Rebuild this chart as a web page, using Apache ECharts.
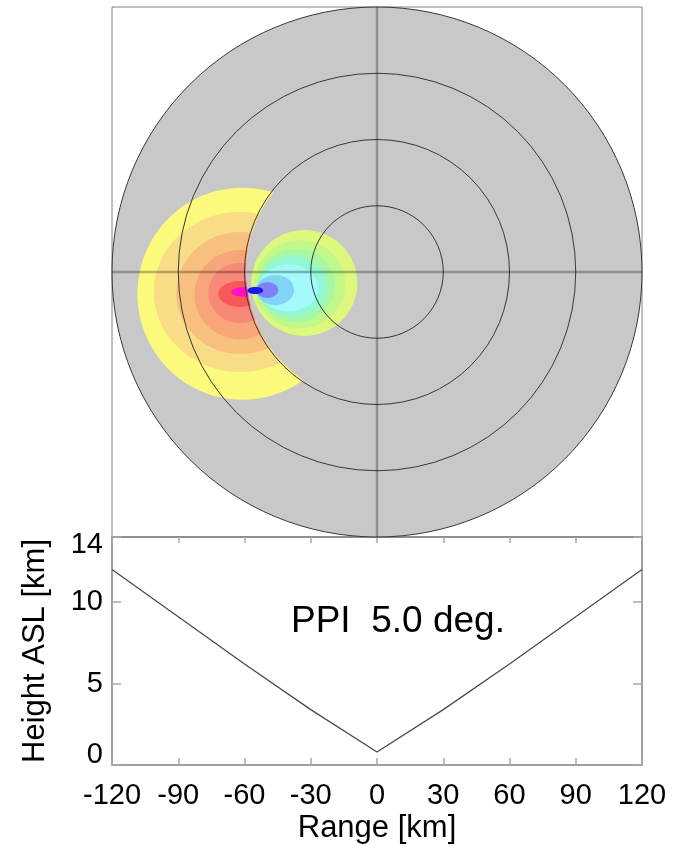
<!DOCTYPE html>
<html>
<head>
<meta charset="utf-8">
<script src="https://cdn.jsdelivr.net/npm/echarts@6/dist/echarts.min.js"></script>
<style>
  html, body { margin: 0; padding: 0; background: #ffffff; }
  #chart { width: 674px; height: 848px; }
</style>
</head>
<body>
<div id="chart"></div>
<script>
// ---- PPI display (plan view, km east / km north of the radar) ----
const ringRangesKm = [30, 60, 90, 120];
const maxRangeKm = 120;
// zero isodop lies along this range (km)
const zeroIsodopRangeKm = 59.3;

// receding-velocity contour bands, outermost first: [centre x, centre y, half-width, half-height] (km)
const recedingBands = [
  [-61.0, -9.8, 47.5, 48.0],
  [-62.0, -9.0, 39.0, 36.2],
  [-62.0, -9.5, 28.9, 27.6],
  [-62.0, -10.2, 20.7, 20.2],
  [-62.0, -9.5, 14.4, 13.6],
  [-62.0, -10.0, 9.9, 5.9],
  [-59.5, -9.0, 6.5, 2.2]
];
const recedingColors = ['#fbfa7c', '#f9dc86', '#f8c07e', '#f8a57a', '#f88878', '#fa5858', '#ff10c8'];

// approaching-velocity contour bands, outermost first
const approachingBands = [
  [-32.9, -5.0, 24.0, 24.0],
  [-35.0, -5.6, 20.6, 20.0],
  [-36.6, -6.2, 17.6, 16.6],
  [-38.2, -6.6, 15.3, 13.6],
  [-40.0, -7.2, 13.4, 10.6],
  [-46.1, -8.2, 8.6, 6.8],
  [-49.7, -8.2, 5.0, 3.6],
  [-55.1, -8.4, 3.6, 1.6]
];
const approachingColors = ['#ddf87c', '#c2f88a', '#a6f8a6', '#90f8d4', '#a4fafa', '#80d4f8', '#8080f8', '#1a1aee'];

// ---- beam height cross-section ----
const rangeKm = [-120, -90, -60, -30, 0, 30, 60, 90, 120];
const beamHeightKm = [12.0, 9.1, 6.2, 3.4, 0.8, 3.4, 6.2, 9.1, 12.0];
const heightTickLabels = [0, 5, 10, 14];
const rangeTickStep = 30;
const sweepLabel = 'PPI  5.0 deg.';

const FONT = 'Liberation Sans, Arial, Helvetica, sans-serif';

function bandEllipses(api, bands, colors) {
  return bands.map(function (b, i) {
    const p = api.coord([b[0], b[1]]);
    const s = api.size([b[2], b[3]]);
    return {
      type: 'ellipse',
      shape: { cx: p[0], cy: p[1], rx: s[0], ry: s[1] },
      style: { fill: colors[i] }
    };
  });
}

function renderPPI(params, api) {
  const c = api.coord([0, 0]);
  const kmPx = api.size([1, 1])[0];
  const children = [];
  // scanned disk
  children.push({
    type: 'circle',
    shape: { cx: c[0], cy: c[1], r: maxRangeKm * kmPx },
    style: { fill: '#c8c8c8' }
  });
  // receding bands lie beyond the zero isodop
  children.push({
    type: 'group',
    children: bandEllipses(api, recedingBands, recedingColors),
    clipPath: {
      type: 'ring',
      shape: { cx: c[0], cy: c[1], r: maxRangeKm * kmPx, r0: zeroIsodopRangeKm * kmPx }
    }
  });
  // approaching bands lie inside it
  children.push({
    type: 'group',
    children: bandEllipses(api, approachingBands, approachingColors),
    clipPath: {
      type: 'circle',
      shape: { cx: c[0], cy: c[1], r: zeroIsodopRangeKm * kmPx }
    }
  });
  // range rings
  ringRangesKm.forEach(function (r) {
    children.push({
      type: 'circle',
      shape: { cx: c[0], cy: c[1], r: r * kmPx },
      style: { fill: null, stroke: '#383838', lineWidth: 1 }
    });
  });
  // cross hair through the radar
  const w = api.coord([-maxRangeKm, 0]), e = api.coord([maxRangeKm, 0]);
  const s = api.coord([0, -maxRangeKm]), n = api.coord([0, maxRangeKm]);
  const hair = { stroke: 'rgba(0,0,0,0.28)', lineWidth: 2.5 };
  children.push({ type: 'line', shape: { x1: w[0], y1: w[1], x2: e[0], y2: e[1] }, style: hair });
  children.push({ type: 'line', shape: { x1: s[0], y1: s[1], x2: n[0], y2: n[1] }, style: hair });
  return { type: 'group', children: children };
}

const chart = echarts.init(document.getElementById('chart'), null, { renderer: 'canvas' });

const axisGray = '#808080';
const tickGray = '#a8a8a8';

chart.setOption({
  animation: false,
  backgroundColor: '#ffffff',
  grid: [
    { left: 112, top: 7, width: 530, height: 530, show: true, borderColor: axisGray, borderWidth: 1, backgroundColor: 'transparent' },
    { left: 112, top: 537, width: 530, height: 228 }
  ],
  xAxis: [
    { gridIndex: 0, type: 'value', min: -maxRangeKm, max: maxRangeKm, show: false },
    {
      gridIndex: 1, type: 'value', position: 'bottom', min: -maxRangeKm, max: maxRangeKm, interval: rangeTickStep,
      axisLine: { show: true, onZero: false, lineStyle: { color: axisGray, width: 1.5 } },
      axisTick: { show: true, inside: true, length: 7, lineStyle: { color: tickGray, width: 1.5 } },
      axisLabel: { show: true, margin: 16, fontSize: 29, fontFamily: FONT, color: '#000' },
      splitLine: { show: false },
      name: 'Range [km]', nameLocation: 'middle', nameGap: 48,
      nameTextStyle: { fontSize: 31, fontFamily: FONT, color: '#000' }
    },
    {
      gridIndex: 1, type: 'value', position: 'top', min: -maxRangeKm, max: maxRangeKm, interval: rangeTickStep,
      axisLine: { show: true, onZero: false, lineStyle: { color: axisGray, width: 1.5 } },
      axisTick: { show: true, inside: true, length: 6, lineStyle: { color: tickGray, width: 1.5 } },
      axisLabel: { show: false },
      splitLine: { show: false }
    }
  ],
  yAxis: [
    { gridIndex: 0, type: 'value', min: -maxRangeKm, max: maxRangeKm, show: false },
    {
      gridIndex: 1, type: 'value', position: 'left', min: 0, max: 14, interval: 5,
      axisLine: { show: true, onZero: false, lineStyle: { color: axisGray, width: 1.5 } },
      axisTick: { show: true, inside: true, length: 9, lineStyle: { color: tickGray, width: 1.5 } },
      axisLabel: {
        show: true, margin: 9, fontSize: 29, fontFamily: FONT, color: '#000',
        formatter: function (v) {
          if (heightTickLabels.indexOf(v) < 0) return '';
          if (v === heightTickLabels[0]) return '{lo|' + v + '}';
          if (v === heightTickLabels[heightTickLabels.length - 1]) return '{hi|' + v + '}';
          return String(v);
        },
        rich: {
          lo: { fontSize: 29, fontFamily: FONT, color: '#000', padding: [0, 0, 21, 0] },
          hi: { fontSize: 29, fontFamily: FONT, color: '#000', padding: [16, 0, 0, 0] }
        }
      },
      splitLine: { show: false },
      name: 'Height ASL [km]', nameLocation: 'middle', nameGap: 61,
      nameTextStyle: { fontSize: 31, fontFamily: FONT, color: '#000' }
    },
    {
      gridIndex: 1, type: 'value', position: 'right', min: 0, max: 14, interval: 5,
      axisLine: { show: true, onZero: false, lineStyle: { color: axisGray, width: 1.5 } },
      axisTick: { show: true, inside: true, length: 9, lineStyle: { color: tickGray, width: 1.5 } },
      axisLabel: { show: false },
      splitLine: { show: false }
    }
  ],
  graphic: [
    {
      type: 'text', left: 291, top: 603, silent: true,
      style: { text: sweepLabel, font: '37px ' + FONT, fill: '#000' }
    }
  ],
  series: [
    {
      type: 'custom', name: 'PPI', coordinateSystem: 'cartesian2d', xAxisIndex: 0, yAxisIndex: 0,
      clip: false, silent: true, renderItem: renderPPI, data: [[0, 0]]
    },
    {
      type: 'line', name: 'beam height', xAxisIndex: 1, yAxisIndex: 1,
      data: rangeKm.map(function (r, i) { return [r, beamHeightKm[i]]; }),
      showSymbol: false, silent: true,
      lineStyle: { color: '#4a4a4a', width: 1.3 }
    }
  ]
});
</script>
</body>
</html>
